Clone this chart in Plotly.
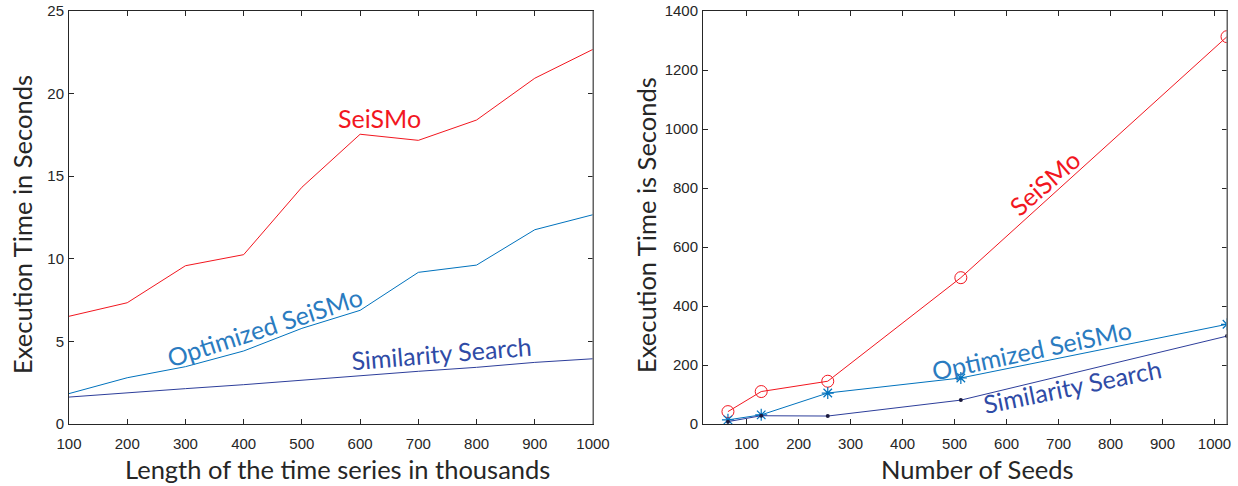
import plotly.graph_objects as go

# Left panel: execution time vs. series length (thousands)
length_k = [100, 200, 300, 400, 500, 600, 700, 800, 900, 1000]
seismo_len = [6.52, 7.34, 9.58, 10.25, 14.33, 17.54, 17.17, 18.4, 20.93, 22.68]
opt_len = [1.84, 2.80, 3.47, 4.42, 5.79, 6.88, 9.18, 9.62, 11.76, 12.67]
sim_len = [1.63, 1.90, 2.14, 2.38, 2.66, 2.93, 3.19, 3.43, 3.73, 3.95]

# Right panel: execution time vs. number of seeds
seeds = [64, 128, 256, 512, 1024]
seismo_seeds = [42, 110, 145, 496, 1313]
opt_seeds = [14, 31, 105, 156, 338]
sim_seeds = [8, 28, 27, 81, 298]

left_xticks = [100, 200, 300, 400, 500, 600, 700, 800, 900, 1000]
left_yticks = [0, 5, 10, 15, 20, 25]
right_xticks = [100, 200, 300, 400, 500, 600, 700, 800, 900, 1000]
right_yticks = [0, 200, 400, 600, 800, 1000, 1200, 1400]

RED = "#F2161F"
BLUE = "#0072BD"
NAVY = "#2D3E9B"
NAVY_TXT = "#2F4BA6"
DOT = "#1B1B3F"
AX = "#262626"

TICK_FONT = dict(family="Liberation Sans, Arial, sans-serif", size=15, color=AX)
LBL_FONT = "Lato, Open Sans, sans-serif"

fig = go.Figure()

# left panel
fig.add_trace(go.Scatter(x=length_k, y=seismo_len, mode="lines",
                         line=dict(color=RED, width=1), xaxis="x", yaxis="y"))
fig.add_trace(go.Scatter(x=length_k, y=opt_len, mode="lines",
                         line=dict(color=BLUE, width=1), xaxis="x", yaxis="y"))
fig.add_trace(go.Scatter(x=length_k, y=sim_len, mode="lines",
                         line=dict(color=NAVY, width=1), xaxis="x", yaxis="y"))

# right panel
fig.add_trace(go.Scatter(x=seeds, y=seismo_seeds, mode="lines+markers",
                         line=dict(color=RED, width=1),
                         marker=dict(symbol="circle-open", size=12, color=RED, line=dict(width=1)),
                         xaxis="x2", yaxis="y2"))
fig.add_trace(go.Scatter(x=seeds, y=opt_seeds, mode="lines+markers",
                         line=dict(color=BLUE, width=1),
                         marker=dict(symbol="asterisk-open", size=10, color=BLUE, line=dict(width=1.2, color=BLUE)),
                         xaxis="x2", yaxis="y2"))
fig.add_trace(go.Scatter(x=seeds, y=sim_seeds, mode="lines+markers",
                         line=dict(color=NAVY, width=1),
                         marker=dict(symbol="circle", size=4, color=DOT),
                         xaxis="x2", yaxis="y2"))

axis_common = dict(showline=True, linecolor=AX, linewidth=1, mirror="ticks",
                   ticks="inside", ticklen=5, tickcolor=AX, tickwidth=1,
                   showgrid=False, zeroline=False, tickfont=TICK_FONT,
                   automargin=False)
x_common = dict(ticklabelstandoff=6, **axis_common)
y_common = dict(ticklabelstandoff=1, **axis_common)

fig.update_layout(
    width=1238, height=486,
    margin=dict(l=0, r=0, t=0, b=0, autoexpand=False),
    paper_bgcolor="white", plot_bgcolor="white",
    showlegend=False,
    xaxis=dict(domain=[69 / 1238, 593 / 1238], range=[100, 1000],
               tickvals=left_xticks, anchor="y", **x_common),
    yaxis=dict(domain=[1 - 424 / 486, 1 - 11 / 486], range=[0, 25],
               tickvals=left_yticks, anchor="x", **y_common),
    xaxis2=dict(domain=[703 / 1238, 1227 / 1238], range=[16, 1024],
                tickvals=right_xticks, anchor="y2", **x_common),
    yaxis2=dict(domain=[1 - 424 / 486, 1 - 11 / 486], range=[0, 1400],
                tickvals=right_yticks, anchor="x2", **y_common),
)

# lighter right-hand border of each box
for xr, yr in (("x domain", "y domain"), ("x2 domain", "y2 domain")):
    fig.add_shape(type="line", xref=xr, yref=yr, x0=1, x1=1, y0=0, y1=1,
                  line=dict(color="#858585", width=1.3), layer="above")

# axis titles
title_font = dict(family=LBL_FONT, size=25.5, color=AX)


def axis_title(text, x, y, angle=0):
    fig.add_annotation(text=text, xref="paper", yref="paper", x=x, y=y,
                       xanchor="center", yanchor="middle", textangle=angle,
                       showarrow=False, font=title_font)


axis_title("Length of the time series in thousands", 337 / 1238, 1 - 469 / 486)
axis_title("Execution Time in Seconds", 22 / 1238, 1 - 225 / 486, -90)
axis_title("Number of Seeds", 977 / 1238, 1 - 469 / 486)
axis_title("Execution Time is Seconds", 646 / 1238, 1 - 225 / 486, -90)


# in-plot series labels
def series_label(text, x, y, angle, color, xa, ya):
    fig.add_annotation(text=text, x=x, y=y, xref=xa, yref=ya, textangle=angle,
                       xanchor="center", yanchor="middle",
                       showarrow=False, font=dict(family=LBL_FONT, size=25, color=color))


series_label("SeiSMo", 634, 18.52, 0, RED, "x", "y")
series_label("Optimized SeiSMo", 435, 5.87, -18, "#2A7BC0", "x", "y")
series_label("Similarity Search", 739, 4.30, -4.7, NAVY_TXT, "x", "y")

series_label("SeiSMo", 672, 817, -41, RED, "x2", "y2")
series_label("Optimized SeiSMo", 647, 251, -12, "#2A7BC0", "x2", "y2")
series_label("Similarity Search", 726, 129, -11.6, NAVY_TXT, "x2", "y2")

fig.write_html("out.html")
